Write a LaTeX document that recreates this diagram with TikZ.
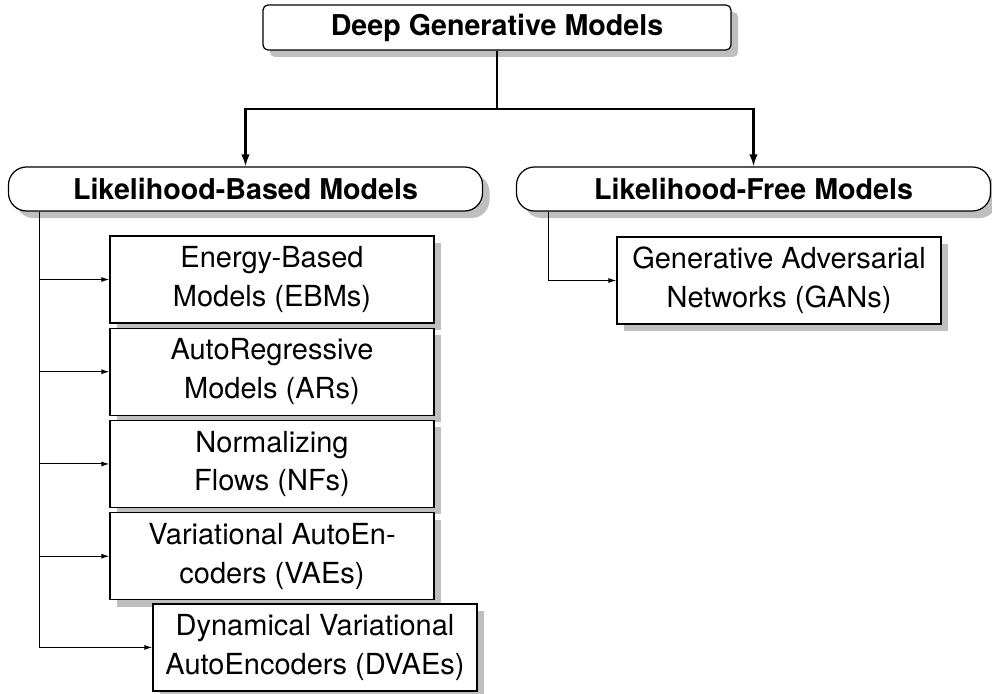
\documentclass[tikz,border=0pt]{standalone}
\usepackage{fontspec}
\setmainfont{TeX Gyre Heros}
\usepackage{tikz}
\usetikzlibrary{arrows.meta,positioning,calc,shadows}

\begin{document}
\begin{tikzpicture}[
    font=\fontsize{16.5}{22}\selectfont,
    boxshadow/.style={drop shadow={shadow xshift=0.14cm,shadow yshift=-0.14cm,fill=black!25,opacity=1}},
    topbox/.style={draw,line width=0.7pt,fill=white,rounded corners=0.1cm,minimum width=9.36cm,minimum height=0.9cm,font=\fontsize{16.3}{22}\selectfont\bfseries,boxshadow},
    famibox/.style={draw,line width=0.7pt,fill=white,rounded corners=0.36cm,minimum width=9.48cm,minimum height=0.88cm,font=\fontsize{16.3}{22}\selectfont\bfseries,boxshadow},
    modelbox/.style={draw,line width=0.7pt,fill=white,minimum width=6.48cm,minimum height=1.74cm,align=center,inner sep=2pt,boxshadow},
    mainarrow/.style={line width=1.2pt,-{Latex[length=0.24cm,width=0.17cm]}},
    subarrow/.style={line width=0.6pt,-{Latex[length=0.16cm,width=0.1cm]}}]
  \useasboundingbox (0,0) rectangle (19.84,-13.86);
  % root and the two families
  \node[topbox] (dgm) at (9.94,-0.55) {Deep Generative Models};
  \node[famibox] (lbm) at (4.91,-3.78) {Likelihood-Based Models};
  \node[famibox] (lfm) at (15.07,-3.78) {Likelihood-Free Models};
  \coordinate (split) at ($(dgm.south)+(0,-1.16)$);
  \draw[line width=1.2pt] (dgm.south) -- (split);
  \draw[mainarrow] (split) -| (lbm.north);
  \draw[mainarrow] (split) -| (lfm.north);
  % likelihood-based models
  \node[modelbox] (ebm) at (5.44,-5.59) {Energy-Based\\Models (EBMs)};
  \node[modelbox,below=0.08cm of ebm] (ar) {AutoRegressive\\Models (ARs)};
  \node[modelbox,below=0.08cm of ar] (nf) {Normalizing\\Flows (NFs)};
  \node[modelbox,below=0.08cm of nf] (vae) {Variational AutoEn-\\coders (VAEs)};
  \node[modelbox,anchor=north west] (dvae) at ($(vae.south west)+(0.86,-0.06)$) {Dynamical Variational\\AutoEncoders (DVAEs)};
  \coordinate (lbmtap) at ($(lbm.south west)+(0.64,0)$);
  \foreach \m in {ebm,ar,nf,vae,dvae}
    \draw[subarrow] (lbmtap) |- (\m.west);
  % likelihood-free models
  \node[modelbox] (gan) at (15.58,-5.61) {Generative Adversarial\\Networks (GANs)};
  \coordinate (lfmtap) at ($(lfm.south west)+(0.66,0)$);
  \draw[subarrow] (lfmtap) |- (gan.west);
\end{tikzpicture}
\end{document}
